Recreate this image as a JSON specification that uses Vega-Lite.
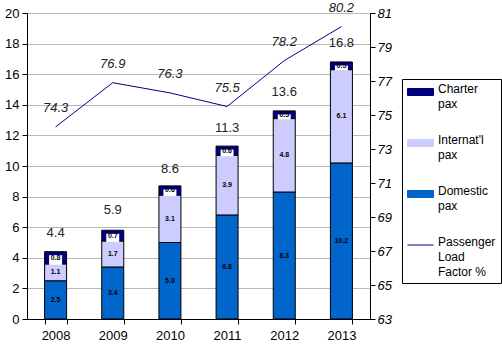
{
  "$schema": "https://vega.github.io/schema/vega-lite/v6.json",
  "width": 343,
  "height": 306,
  "autosize": {"type": "none"},
  "padding": {"left": 27, "top": 13, "right": 132, "bottom": 43},
  "background": "white",
  "config": {
    "font": "Liberation Sans",
    "view": {"stroke": null},
    "axis": {"labelFont": "Liberation Sans", "labelFontSize": 13, "labelColor": "black", "domainColor": "black", "tickColor": "black", "tickSize": 5, "labelOverlap": false}
  },
  "datasets": {
    "bars": [
      {"year": "2008", "series": "Domestic pax", "value": 2.5},
      {"year": "2008", "series": "Internat'l pax", "value": 1.1},
      {"year": "2008", "series": "Charter pax", "value": 0.8},
      {"year": "2009", "series": "Domestic pax", "value": 3.4},
      {"year": "2009", "series": "Internat'l pax", "value": 1.7},
      {"year": "2009", "series": "Charter pax", "value": 0.7},
      {"year": "2010", "series": "Domestic pax", "value": 5.0},
      {"year": "2010", "series": "Internat'l pax", "value": 3.1},
      {"year": "2010", "series": "Charter pax", "value": 0.6},
      {"year": "2011", "series": "Domestic pax", "value": 6.8},
      {"year": "2011", "series": "Internat'l pax", "value": 3.9},
      {"year": "2011", "series": "Charter pax", "value": 0.6},
      {"year": "2012", "series": "Domestic pax", "value": 8.3},
      {"year": "2012", "series": "Internat'l pax", "value": 4.8},
      {"year": "2012", "series": "Charter pax", "value": 0.5},
      {"year": "2013", "series": "Domestic pax", "value": 10.2},
      {"year": "2013", "series": "Internat'l pax", "value": 6.1},
      {"year": "2013", "series": "Charter pax", "value": 0.5}
    ],
    "totals": [
      {"year": "2008", "total": 4.4},
      {"year": "2009", "total": 5.9},
      {"year": "2010", "total": 8.6},
      {"year": "2011", "total": 11.3},
      {"year": "2012", "total": 13.6},
      {"year": "2013", "total": 16.8}
    ],
    "lf": [
      {"year": "2008", "series": "Passenger Load Factor %", "lf": 74.3},
      {"year": "2009", "series": "Passenger Load Factor %", "lf": 76.9},
      {"year": "2010", "series": "Passenger Load Factor %", "lf": 76.3},
      {"year": "2011", "series": "Passenger Load Factor %", "lf": 75.5},
      {"year": "2012", "series": "Passenger Load Factor %", "lf": 78.2},
      {"year": "2013", "series": "Passenger Load Factor %", "lf": 80.2}
    ]
  },
  "encoding": {
    "x": {
      "field": "year", "type": "nominal", "title": null,
      "scale": {"paddingInner": 0.615, "paddingOuter": 0.3075},
      "axis": {"labelAngle": 0, "tickBand": "extent", "labelPadding": 5, "grid": false}
    }
  },
  "layer": [
    {
      "layer": [
        {
          "data": {"name": "bars"},
          "transform": [
            {"calculate": "indexof([\"Domestic pax\", \"Internat'l pax\", \"Charter pax\"], datum.series)", "as": "ord"},
            {"stack": "value", "groupby": ["year"], "sort": [{"field": "ord", "order": "ascending"}], "as": ["v0", "v1"]}
          ],
          "mark": {"type": "bar", "stroke": "black", "strokeWidth": 1},
          "encoding": {
            "y": {
              "field": "v1", "type": "quantitative", "title": null,
              "scale": {"domain": [0, 20], "nice": false},
              "axis": {"values": [0, 2, 4, 6, 8, 10, 12, 14, 16, 18, 20], "tickCount": 20, "labelOverlap": false, "grid": true, "gridColor": "#B8B8B8", "gridOpacity": 1, "labelPadding": 3}
            },
            "y2": {"field": "v0"},
            "color": {
              "field": "series", "type": "nominal",
              "scale": {
                "domain": ["Charter pax", "Internat'l pax", "Domestic pax", "Passenger Load Factor %"],
                "range": ["#000080", "#CCCCFF", "#0066CC", "#000080"]
              },
              "legend": {
                "title": null,
                "orient": "none",
                "legendX": 375,
                "legendY": 66,
                "strokeColor": "black",
                "fillColor": "white",
                "padding": 5,
                "rowPadding": 24,
                "labelFont": "Liberation Sans",
                "labelFontSize": 12,
                "labelColor": "black",
                "labelLimit": 200,
                "labelOffset": 4,
                "labelBaseline": "top",
                "symbolSize": 676,
                "labelExpr": "datum.label == 'Passenger Load Factor %' ? ['Passenger', 'Load', 'Factor %'] : split(datum.label, ' ')",
                "encoding": {
                  "symbols": {
                    "shape": {"value": {"expr": "datum.value == 'Passenger Load Factor %' ? 'stroke' : 'M-1,-0.27H1V0.27H-1Z'"}},
                    "size": {"value": 676},
                    "y": {"value": 8},
                    "stroke": {"value": {"expr": "datum.value == 'Passenger Load Factor %' ? '#000080' : 'black'"}},
                    "strokeWidth": {"value": 1},
                    "opacity": {"value": 1}
                  },
                  "labels": {"lineHeight": {"value": 15}, "y": {"value": 0}}
                }
              }
            }
          }
        },
        {
          "data": {"name": "bars"},
          "transform": [
            {"calculate": "indexof([\"Domestic pax\", \"Internat'l pax\", \"Charter pax\"], datum.series)", "as": "ord"},
            {"stack": "value", "groupby": ["year"], "sort": [{"field": "ord", "order": "ascending"}], "as": ["v0", "v1"]},
            {"filter": "datum.series == 'Charter pax'"}
          ],
          "mark": {"type": "bar", "fill": "white", "width": 13, "yOffset": 3.5, "y2Offset": 1},
          "encoding": {
            "y": {"field": "v1", "type": "quantitative", "title": null},
            "y2": {"field": "v0"}
          }
        },
        {
          "data": {"name": "bars"},
          "transform": [
            {"calculate": "indexof([\"Domestic pax\", \"Internat'l pax\", \"Charter pax\"], datum.series)", "as": "ord"},
            {"stack": "value", "groupby": ["year"], "sort": [{"field": "ord", "order": "ascending"}], "as": ["v0", "v1"]},
            {"calculate": "(datum.v0 + datum.v1) / 2", "as": "mid"}
          ],
          "mark": {"type": "text", "fontSize": 7, "fontWeight": "bold", "color": "black", "font": "Liberation Sans"},
          "encoding": {
            "y": {"field": "mid", "type": "quantitative", "title": null},
            "text": {"field": "value", "type": "quantitative", "format": ".1f"}
          }
        },
        {
          "data": {"name": "totals"},
          "mark": {"type": "text", "fontSize": 13, "dy": -18.5, "color": "#222222", "font": "Liberation Sans"},
          "encoding": {
            "y": {"field": "total", "type": "quantitative", "title": null},
            "text": {"field": "total", "type": "quantitative", "format": ".1f"}
          }
        }
      ]
    },
    {
      "layer": [
        {
          "data": {"name": "lf"},
          "mark": {"type": "line", "strokeWidth": 1},
          "encoding": {
            "y": {
              "field": "lf", "type": "quantitative", "title": null,
              "scale": {"domain": [63, 81], "nice": false, "zero": false},
              "axis": {"orient": "right", "values": [63, 65, 67, 69, 71, 73, 75, 77, 79, 81], "tickCount": 20, "labelOverlap": false, "grid": false, "labelFontStyle": "italic", "labelPadding": 2}
            },
            "color": {"field": "series", "type": "nominal"}
          }
        },
        {
          "data": {"name": "lf"},
          "mark": {"type": "text", "fontSize": 13, "fontStyle": "italic", "dy": -19, "color": "#222222", "font": "Liberation Sans"},
          "encoding": {
            "y": {"field": "lf", "type": "quantitative", "title": null},
            "text": {"field": "lf", "type": "quantitative", "format": ".1f"}
          }
        }
      ]
    }
  ],
  "resolve": {"scale": {"y": "independent"}}
}
